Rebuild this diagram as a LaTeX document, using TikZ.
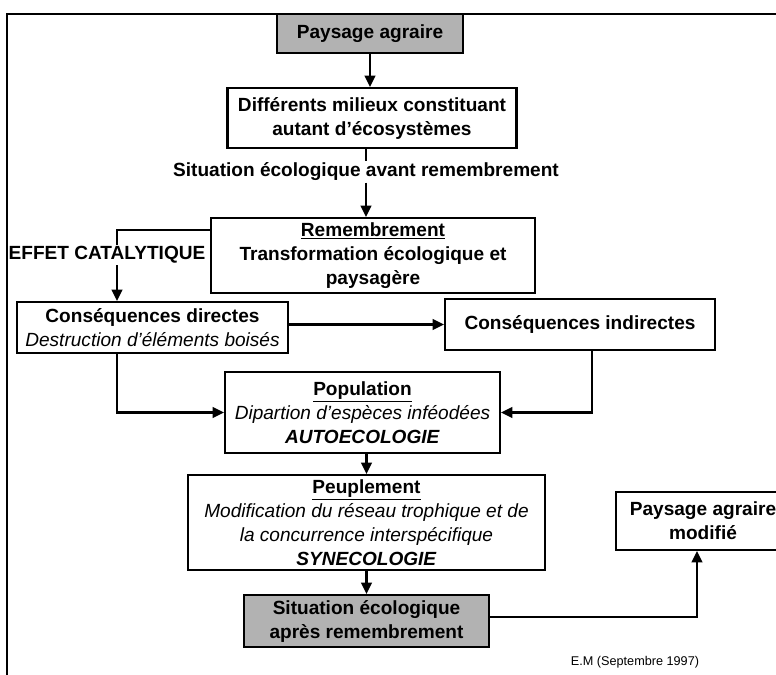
\documentclass[tikz,border=0pt]{standalone}
\usepackage{fontspec}
\setmainfont{Liberation Sans}
\usetikzlibrary{arrows.meta,positioning,calc}
\tikzset{
  boite/.style={rectangle, draw=black, line width=1.6pt, fill=white, align=center,
                inner sep=2pt},
  grise/.style={boite, fill=black!30},
  sz/.style 2 args={minimum width=#1*0.75pt, minimum height=#2*0.75pt},
  lbl/.style={align=center, inner sep=1pt},
  lien/.style={line width=1.6pt, draw=black},
  fleche/.style={lien, -{Triangle[length=8.5pt,width=8pt]}},
  sign/.style={font=\mdseries\fontsize{9.5}{11}\selectfont},
}
\newcommand{\ital}[1]{{\mdseries\itshape #1}}
\begin{document}
\begin{tikzpicture}[x=0.75pt,y=-0.75pt,
  every node/.style={font=\bfseries\fontsize{14.3}{18}\selectfont}]
\useasboundingbox (0,0) rectangle (776,675);
\clip (0,0) rectangle (776,675);

% cadre
\draw[line width=1.2pt] (7,675) -- (7,14) -- (776,14);

% ------------- colonne centrale -------------
\node[grise, sz={186}{39}] (pa) at (370,33.5) {Paysage agraire};
\node[boite, sz={289}{60}] (dm) at (372,118)
  {Différents milieux constituant\\autant d'écosystèmes};
\node[lbl] (avant) at (366,172) {Situation écologique avant remembrement};
\node[boite, sz={324}{75}] (rem) at (373,255.5)
  {\underline{Remembrement}\\Transformation écologique et\\paysagère};
\node[lbl] (effet) at (107,255) {EFFET CATALYTIQUE};
\node[boite, sz={271}{51}] (cd) at (152.5,327.5)
  {Conséquences directes\\\ital{Destruction d'éléments boisés}};
\node[boite, sz={270}{51}] (ci) at (580,324.5) {Conséquences indirectes};
\node[boite, sz={275}{81}] (pop) at (362.5,412.5)
  {\underline{Population}\\\ital{Dipartion d'espèces inféodées}\\\textit{AUTOECOLOGIE}};
\node[boite, sz={357}{95}] (peu) at (366.5,522.5)
  {\underline{Peuplement}\\\ital{Modification du réseau trophique et de}\\
   \ital{la concurrence interspécifique}\\\textit{SYNECOLOGIE}};
\node[grise, sz={245}{52}] (sit) at (366.5,621)
  {Situation écologique\\après remembrement};
\node[boite, sz={174}{58}] (mod) at (703,521) {Paysage agraire\\modifié};
\node[sign] (em) at (635,662) {E.M (Septembre 1997)};

% ------------- liaisons -------------
\coordinate (kA) at (117,230);
\coordinate (kB) at (697,617);
\draw[fleche] (pa.south) -- (pa.south |- dm.north);
\draw[lien] (dm.south -| avant) -- (avant.north);
\draw[fleche] (avant.south) -- (avant.south |- rem.north);
\draw[lien] (rem.west |- kA) -- (kA) -- (kA |- effet.north);
\draw[fleche] (kA |- effet.south) -- (kA |- cd.north);
\draw[fleche] (cd.east |- ci.west) -- (ci.west);
\draw[fleche] (kA |- cd.south) |- (pop.west);
\draw[fleche] (592,0 |- ci.south) |- (pop.east);
\draw[fleche] (peu.north |- pop.south) -- (peu.north);
\draw[fleche] (peu.south) -- (sit.north);
\draw[fleche] (sit.east |- kB) -- (kB) -- (kB |- mod.south);

\end{tikzpicture}
\end{document}
